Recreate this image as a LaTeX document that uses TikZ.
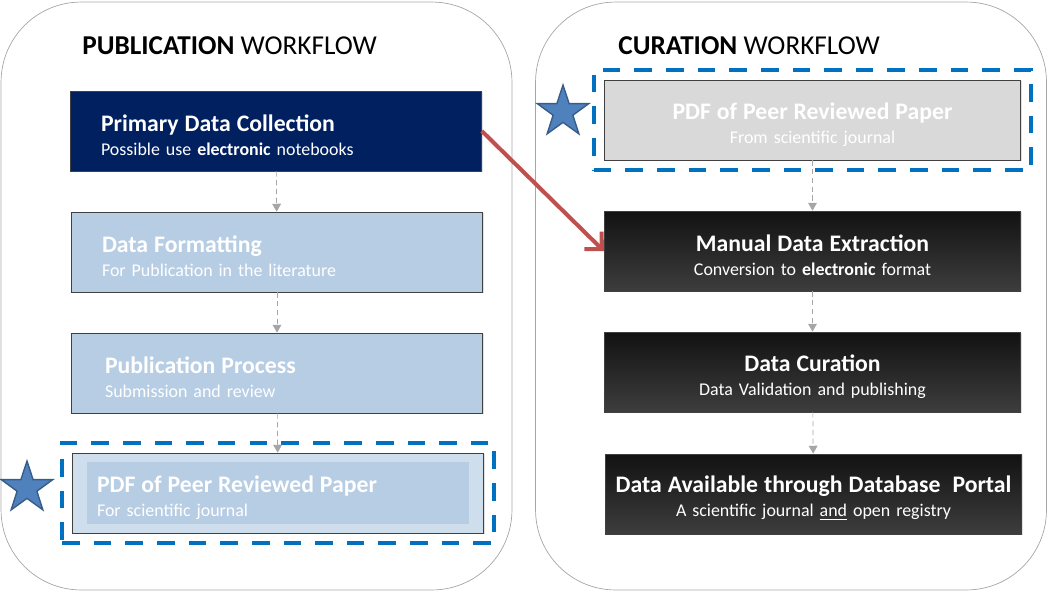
\documentclass[tikz,border=0pt]{standalone}
\usepackage{fontspec}
\setmainfont{Carlito}
\usepackage{tikz}
\usetikzlibrary{arrows.meta, shapes.geometric, fit, shadows}

\definecolor{navy}{HTML}{002060}
\definecolor{pubblue}{HTML}{B6CDE4}
\definecolor{pubring}{HTML}{CEDEEC}
\definecolor{pdfgray}{HTML}{D9D9D9}
\definecolor{markblue}{HTML}{0070C0}
\definecolor{starblue}{HTML}{4F81BD}
\definecolor{starrim}{HTML}{385D8A}
\definecolor{linkred}{HTML}{C0504D}
\definecolor{linkgray}{HTML}{A6A6A6}

\newcommand{\bxhead}[1]{{\fontsize{13.5}{13.6}\selectfont\bfseries\rule{0pt}{14.5pt}#1}}
\newcommand{\bxsub}[1]{#1}

\begin{document}
\begin{tikzpicture}[x=0.02cm, y=-0.02cm,
    panel/.style = {draw=linkgray, rounded corners=1.6cm, minimum width=10.22cm, minimum height=11.76cm},
    heading/.style = {anchor=west, inner sep=0pt, font=\fontsize{15.5}{16}\selectfont},
    stage/.style = {draw=black!75, minimum width=8.22cm, minimum height=1.6cm, text=white,
        font=\fontsize{10.2}{13.6}\selectfont,
        drop shadow={shadow xshift=0.6pt, shadow yshift=-0.8pt, opacity=0.25}},
    pubstage/.style = {stage, text width=7cm, align=left},
    curstage/.style = {stage, text width=8.1cm, align=center},
    darkstage/.style = {curstage, top color=black!93, bottom color=black!76},
    marker/.style = {draw=markblue, line width=2.3pt, dash pattern=on 10pt off 8pt, inner sep=0.2cm},
    prize/.style = {star, star points=5, star point ratio=2.6, minimum size=1.08cm, inner sep=0pt,
        fill=starblue, draw=starrim, line width=0.8pt},
    flow/.style = {draw=linkgray, densely dashed, -{Triangle[width=5pt, length=4.5pt]}},
    jump/.style = {draw=linkred, line width=2.3pt, -{Straight Barb[length=7pt, width=14pt]}}
]
    \useasboundingbox (0, 0) rectangle (1050, 592);

    % two panels
    \node[panel] (pubpanel) at (256.5, 296) {};
    \node[panel] (curpanel) at (791, 296) {};
    \node[heading] (pubtitle) at (82, 46) {\textbf{PUBLICATION} WORKFLOW};
    \node[heading] (curtitle) at (618, 46) {\textbf{CURATION} WORKFLOW};

    % publication side
    \node[pubstage, fill=navy] (collect) at (276, 131)
        {\bxhead{Primary Data Collection}\\ \bxsub{Possible use \textbf{electronic} notebooks}};
    \node[pubstage, fill=pubblue] (format) at (277, 252)
        {\bxhead{Data Formatting}\\ \bxsub{For Publication in the literature}};
    \node[pubstage, fill=pubblue] (process) at (277, 373)
        {\hspace*{0.06cm}\bxhead{Publication Process}\\ \hspace*{0.06cm}\bxsub{Submission and review}};
    \node[pubstage, fill=pubring, path picture={
            \fill[pubblue] ([shift={(14,9)}]path picture bounding box.north west)
                rectangle ([shift={(-14,-9)}]path picture bounding box.south east);}]
        (pdfpub) at (278, 493)
        {\hspace*{-0.12cm}\bxhead{PDF of Peer Reviewed Paper}\\ \hspace*{-0.12cm}\bxsub{For scientific journal}};

    % curation side
    \node[curstage, fill=pdfgray] (pdfcur) at (812.5, 120)
        {\bxhead{PDF of Peer Reviewed Paper}\\ \bxsub{From scientific journal}};
    \node[darkstage] (extract) at (812.5, 251)
        {\bxhead{Manual Data Extraction}\\ \bxsub{Conversion to \textbf{electronic} format}};
    \node[darkstage] (curate) at (812.5, 372)
        {\bxhead{Data Curation}\\ \bxsub{Data Validation and publishing}};
    \node[darkstage] (portal) at (813.5, 494)
        {\bxhead{Data Available through Database~ Portal}\\ \bxsub{A scientific journal \underline{and} open registry}};

    % highlighted papers
    \node[marker, fit=(pdfpub)] (pubmark) {};
    \node[marker, fit=(pdfcur)] (curmark) {};
    \node[prize] (pubstar) at (27, 488) {};
    \node[prize] (curstar) at (563, 112) {};

    \draw[flow] (collect) -- (format);
    \draw[flow] (format) -- (process);
    \draw[flow] (process) -- (pdfpub);
    \draw[flow] (pdfcur) -- (extract);
    \draw[flow] (extract) -- (curate);
    \draw[flow] (curate) -- (portal);
    \draw[jump] (collect.east) -- (extract.west);
\end{tikzpicture}
\end{document}
